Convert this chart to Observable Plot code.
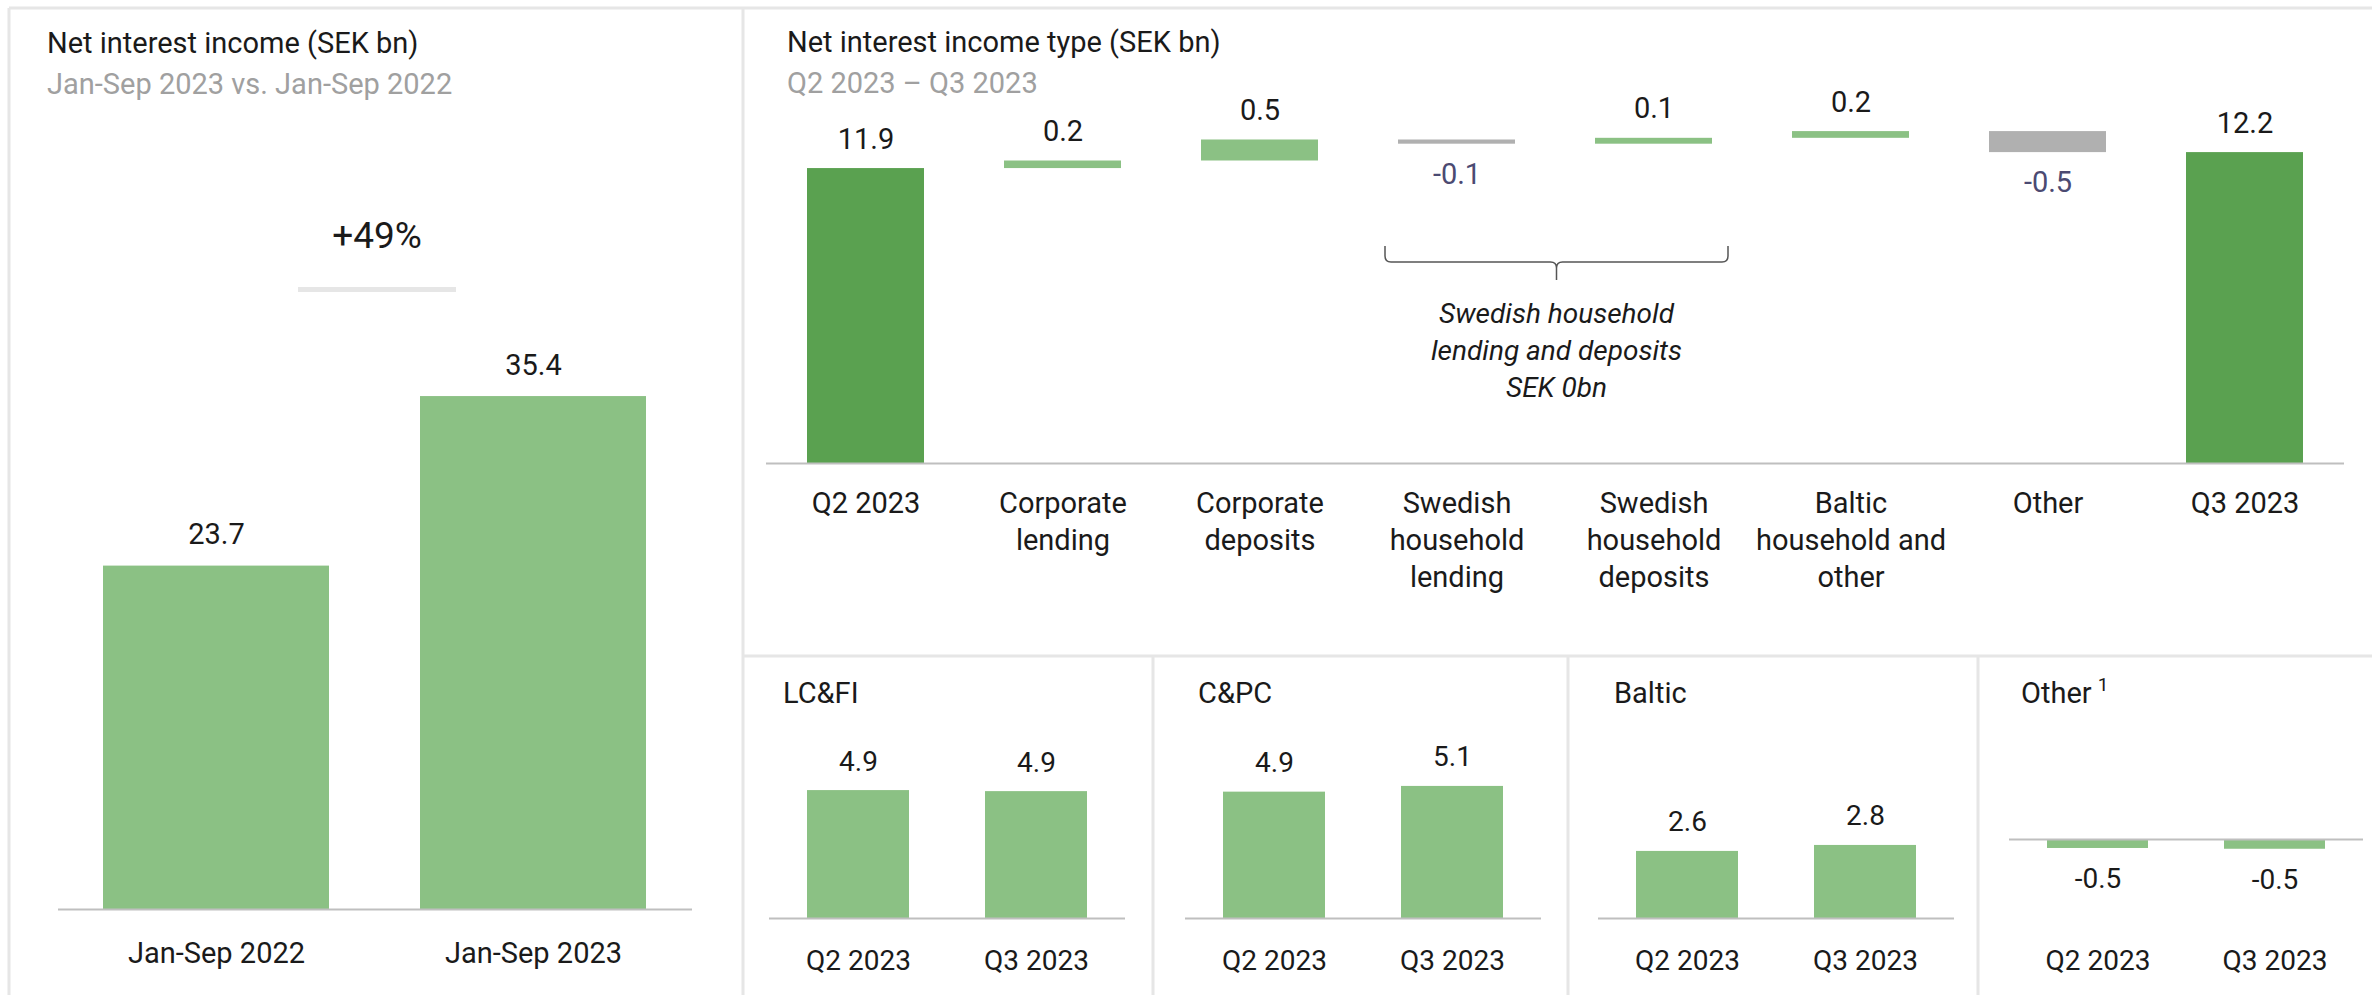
<!DOCTYPE html>
<html><head><meta charset="utf-8">
<script src="https://cdn.jsdelivr.net/npm/d3@7"></script>
<script src="https://cdn.jsdelivr.net/npm/@observablehq/plot@0.6"></script>
<style>
html,body{margin:0;padding:0;background:#fff;}
#root{position:relative;width:2372px;height:995px;overflow:hidden;font-family:Roboto,sans-serif;color:#1a1a1a;}
#root > svg{position:absolute;}
</style></head><body><div id="root"></div>
<script>
// ---------------- data ----------------
const ytdPeriods = ["Jan-Sep 2022", "Jan-Sep 2023"];
const ytdValues = [23.7, 35.4];
const ytdChange = "+49%";

const wfCategories = ["Q2 2023", "Corporate\nlending", "Corporate\ndeposits", "Swedish\nhousehold\nlending",
  "Swedish\nhousehold\ndeposits", "Baltic\nhousehold and\nother", "Other", "Q3 2023"];
const wfValues = [11.86, 0.18, 0.50, -0.10, 0.14, 0.16, -0.50, 12.24];
const wfKinds = ["total", "delta", "delta", "delta", "delta", "delta", "delta", "total"];
const wfBracketText = ["Swedish household", "lending and deposits", "SEK 0bn"];

const quarters = ["Q2 2023", "Q3 2023"];
const divisionNames = ["LC&FI", "C&PC", "Baltic", "Other"];
const lcfiValues = [4.92, 4.88];
const cpcValues = [4.86, 5.08];
const balticValues = [2.58, 2.81];
const otherValues = [-0.46, -0.50];

// ---------------- styling ----------------
const C = {
  light: "#8bc184", dark: "#5aa150", neg: "#b0b0b0", text: "#1a1a1a", sub: "#a0a0a0",
  negText: "#4b4a72", rule: "#bfbfbf", border: "#e6e6e6"
};
const FONT = "Roboto, sans-serif";
const fmt = v => v.toFixed(1);
const baseStyle = `font-family:${FONT};font-size:29px;color:${C.text};background:transparent;overflow:visible;`;
const root = document.getElementById("root");
function place(svg, left, top) { svg.style.left = left + "px"; svg.style.top = top + "px"; root.appendChild(svg); return svg; }

// ---------------- left panel ----------------
const ytd = ytdPeriods.map((p, i) => ({p, v: ytdValues[i]}));
place(Plot.plot({
  width: 743, height: 995, marginLeft: 58, marginRight: 51, marginTop: 300, marginBottom: 86,
  style: baseStyle,
  x: {domain: ytdPeriods, paddingInner: 0.287, paddingOuter: 0.1435, axis: null},
  y: {domain: [0, 42.03], axis: null},
  marks: [
    Plot.barY(ytd, {x: "p", y: "v", fill: C.light}),
    Plot.ruleY([0], {stroke: C.rule, strokeWidth: 2}),
    Plot.axisX({tickSize: 0, tickPadding: 33, fontSize: 29, label: null}),
    Plot.text(ytd, {x: "p", y: "v", text: d => fmt(d.v), lineAnchor: "bottom", dy: -22, fontSize: 29, fill: C.text})
  ]
}), 0, 0);

// ---------------- waterfall ----------------
let run = 0;
const wf = wfCategories.map((c, i) => {
  const v = wfValues[i], kind = wfKinds[i];
  let y1, y2;
  if (kind === "total") { y1 = 0; y2 = v; run = v; }
  else { y1 = run; y2 = run + v; run = y2; }
  return {c, v, kind, y1, y2, lo: Math.min(y1, y2), hi: Math.max(y1, y2),
    color: kind === "total" ? C.dark : (v >= 0 ? C.light : C.neg)};
});
const wfMin = 4.84;
const wfPlot = Plot.plot({
  width: 1629, height: 650, marginLeft: 23, marginRight: 28, marginTop: 100, marginBottom: 187,
  style: baseStyle,
  x: {domain: wfCategories, paddingInner: 0.407, paddingOuter: 0.2035, axis: null},
  y: {domain: [wfMin, 13.48], clamp: true, axis: null},
  color: {type: "identity"},
  marks: [
    Plot.barY(wf, {x: "c", y1: "y1", y2: "y2", fill: "color"}),
    Plot.ruleY([wfMin], {stroke: C.rule, strokeWidth: 2}),
    Plot.axisX({tickSize: 0, tickPadding: 23, lineHeight: 1.28, fontSize: 29, label: null}),
    Plot.text(wf.filter(d => d.v >= 0), {x: "c", y: "hi", text: d => fmt(d.v), lineAnchor: "bottom", dy: -20, fontSize: 29, fill: C.text}),
    Plot.text(wf.filter(d => d.v < 0), {x: "c", y: "lo", text: d => fmt(d.v), lineAnchor: "top", dy: 19, fontSize: 29, fill: C.negText})
  ]
});
place(wfPlot, 743, 0);
{
  const xs = wfPlot.scale("x");
  const bw = xs.bandwidth;
  const left = xs.apply(wfCategories[3]) - 13;
  const right = xs.apply(wfCategories[4]) + bw + 16;
  const mid = (left + right) / 2;
  const yTop = 246, yBar = 262, yTip = 280, r = 6;
  const g = d3.select(wfPlot).append("g");
  g.append("path")
    .attr("d", `M${left},${yTop}V${yBar - r}Q${left},${yBar} ${left + r},${yBar}H${mid - r}Q${mid},${yBar} ${mid},${yBar + r}V${yTip}`
      + `M${mid},${yBar + r}Q${mid},${yBar} ${mid + r},${yBar}H${right - r}Q${right},${yBar} ${right},${yBar - r}V${yTop}`)
    .attr("fill", "none").attr("stroke", "#555").attr("stroke-width", 1.5);
  g.selectAll("text").data(wfBracketText).join("text")
    .attr("x", mid).attr("y", (d, i) => 323 + i * 37)
    .attr("text-anchor", "middle").attr("font-style", "italic").attr("font-size", 28)
    .attr("fill", C.text).text(d => d);
}

// ---------------- small division panels ----------------
function smallPanel(values, left, width, mL, mR, yDomain) {
  const data = quarters.map((q, i) => ({q, v: values[i]}));
  return place(Plot.plot({
    width, height: 335, marginLeft: mL, marginRight: mR, marginTop: 100, marginBottom: 77,
    style: baseStyle,
    x: {domain: quarters, paddingInner: 0.427, paddingOuter: 0.2135, axis: null},
    y: {domain: yDomain, axis: null},
    marks: [
      Plot.barY(data, {x: "q", y: "v", fill: C.light}),
      Plot.ruleY([0], {stroke: C.rule, strokeWidth: 2}),
      Plot.axisX({tickSize: 0, tickPadding: 32, fontSize: 28, label: null}),
      Plot.text(data.filter(d => d.v >= 0), {x: "q", y: "v", text: d => fmt(d.v), lineAnchor: "bottom", dy: -20, fontSize: 28, fill: C.text}),
      Plot.text(data.filter(d => d.v < 0), {x: "q", y: "v", text: d => fmt(d.v), lineAnchor: "top", dy: 20, fontSize: 28, fill: C.text})
    ]
  }), left, 660);
}
smallPanel(lcfiValues, 743, 410, 26, 28, [0, 6.077]);
smallPanel(cpcValues, 1153, 415, 32, 27, [0, 6.077]);
smallPanel(balticValues, 1568, 410, 30, 24, [0, 6.077]);
smallPanel(otherValues, 1978, 394, 31, 9, [-4.05, 4.05]);

// ---------------- overlay: borders, titles ----------------
const ov = d3.select(root).append("svg").attr("width", 2372).attr("height", 995)
  .style("left", "0px").style("top", "0px").style("pointer-events", "none")
  .style("font-family", FONT);
const lines = [
  [9, 8, 2372, 8], [9, 8, 9, 995], [743, 8, 743, 995], [743, 656, 2372, 656],
  [1153, 656, 1153, 995], [1568, 656, 1568, 995], [1978, 656, 1978, 995]
];
ov.selectAll("line").data(lines).join("line")
  .attr("x1", d => d[0]).attr("y1", d => d[1]).attr("x2", d => d[2]).attr("y2", d => d[3])
  .attr("stroke", C.border).attr("stroke-width", 3);
const titles = [
  {x: 47, y: 53, t: "Net interest income (SEK bn)", c: C.text},
  {x: 47, y: 94, t: "Jan-Sep 2023 vs. Jan-Sep 2022", c: C.sub},
  {x: 787, y: 52, t: "Net interest income type (SEK bn)", c: C.text},
  {x: 787, y: 93, t: "Q2 2023 – Q3 2023", c: C.sub},
  {x: 783, y: 703, t: divisionNames[0], c: C.text},
  {x: 1198, y: 703, t: divisionNames[1], c: C.text},
  {x: 1614, y: 703, t: divisionNames[2], c: C.text},
  {x: 2021, y: 703, t: divisionNames[3], c: C.text, sup: "1"}
];
titles.forEach(d => {
  const t = ov.append("text").attr("x", d.x).attr("y", d.y).attr("font-size", 29).attr("fill", d.c).text(d.t);
  if (d.sup) t.append("tspan").attr("dx", 6).attr("dy", -12).attr("font-size", 19).text(d.sup);
});
ov.append("text").attr("x", 377).attr("y", 248).attr("text-anchor", "middle").attr("font-size", 37)
  .attr("fill", C.text).text(ytdChange);
ov.append("rect").attr("x", 298).attr("y", 287).attr("width", 158).attr("height", 5).attr("fill", C.border);
</script></body></html>
